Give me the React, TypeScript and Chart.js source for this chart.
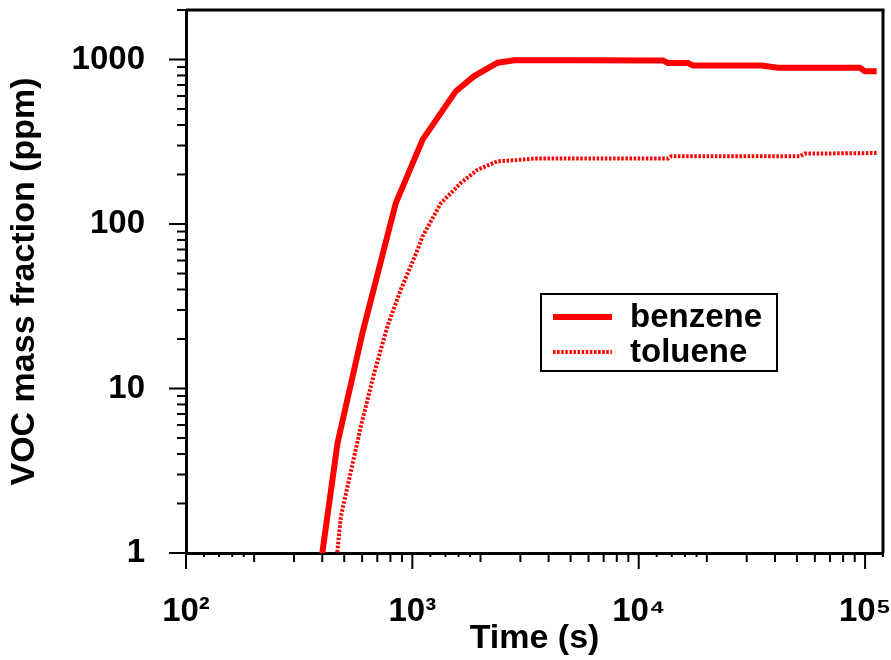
import React, { useEffect, useRef } from "react";
import { Chart, registerables } from "chart.js";

Chart.register(...registerables);

// ---- data ----
const benzeneTime = [398, 467, 603, 845, 1110, 1556, 1875, 2383, 2818, 5000, 12800, 13450, 16500, 17370, 34800, 41300, 94800, 99800, 112500];
const benzeneValue = [0.95, 4.65, 22, 134, 326, 642, 793, 957, 990, 990, 988, 951, 951, 920, 920, 891, 891, 850, 850];

const tolueneTime = [462, 483, 525, 592, 678, 776, 889, 1055, 1110, 1337, 1641, 1943, 2383, 2900, 3460, 13500, 13930, 51500, 54200, 112500];
const tolueneValue = [0.9, 1.66, 2.78, 5.87, 12.4, 23.9, 39.9, 69.8, 84.2, 134, 178, 214, 241, 245, 250, 250, 258, 258, 268, 270];

const seriesLabels = ["benzene", "toluene"];

const xMajorTicks = [100, 1000, 10000, 100000];
const xTickLabels = ["10²", "10³", "10⁴", "10⁵"];
const yMajorTicks = [1, 10, 100, 1000];
const yTickLabels = ["1", "10", "100", "1000"];
const minorFactors = [2, 3, 4, 5, 6, 7, 8, 9];
const tinyFactors = [1.2, 1.4, 1.6, 1.8];

const X_MIN = 100;
const X_MAX = 120000;
const Y_MIN = 1;
const Y_MAX = 2000;

const FONT = "'Liberation Sans', Arial, Helvetica, sans-serif";

const zeroPadding = (scale: any) => {
  scale.paddingTop = 0;
  scale.paddingBottom = 0;
  scale.paddingLeft = 0;
  scale.paddingRight = 0;
};

const tickMarksPlugin = {
  id: "tickMarks",
  afterDraw(chart: any) {
    const { ctx, chartArea } = chart;
    const xs = chart.scales.x;
    const ys = chart.scales.y;
    const { left, right, top, bottom } = chartArea;
    ctx.save();
    ctx.strokeStyle = "#000";
    ctx.lineWidth = 2;
    const line = (x1: number, y1: number, x2: number, y2: number) => {
      ctx.beginPath();
      ctx.moveTo(x1, y1);
      ctx.lineTo(x2, y2);
      ctx.stroke();
    };
    const drawX = (v: number, len: number) => {
      if (v < X_MIN || v > X_MAX) return;
      const px = xs.getPixelForValue(v);
      line(px, bottom, px, bottom + len);
    };
    const drawY = (v: number, len: number) => {
      if (v < Y_MIN || v > Y_MAX) return;
      const py = ys.getPixelForValue(v);
      line(left, py, left - len, py);
    };
    xMajorTicks.forEach((d) => {
      drawX(d, 16);
      minorFactors.forEach((f) => drawX(d * f, 9));
      tinyFactors.forEach((f) => drawX(d * f, 4));
    });
    yMajorTicks.forEach((d) => {
      drawY(d, 17);
      minorFactors.forEach((f) => drawY(d * f, 9));
    });
    // frame top / right
    ctx.lineWidth = 3;
    line(left, top, right + 1.5, top);
    line(right, top, right, bottom);
    ctx.restore();
  },
};

const boxLegendPlugin = {
  id: "boxLegend",
  afterDraw(chart: any) {
    const { ctx, chartArea } = chart;
    const bx = chartArea.left + 355;
    const by = chartArea.top + 284;
    const bw = 236;
    const bh = 77;
    ctx.save();
    ctx.fillStyle = "#fff";
    ctx.fillRect(bx, by, bw, bh);
    ctx.strokeStyle = "#000";
    ctx.lineWidth = 2;
    ctx.strokeRect(bx, by, bw, bh);
    ctx.font = `bold 33px ${FONT}`;
    ctx.textBaseline = "middle";
    ctx.textAlign = "left";
    chart.data.datasets.forEach((ds: any, i: number) => {
      const cy = by + 23 + i * 35;
      ctx.strokeStyle = ds.borderColor;
      ctx.lineWidth = ds.borderWidth;
      ctx.setLineDash(ds.borderDash || []);
      ctx.beginPath();
      ctx.moveTo(bx + 12, cy);
      ctx.lineTo(bx + 71, cy);
      ctx.stroke();
      ctx.setLineDash([]);
      ctx.fillStyle = "#000";
      ctx.fillText(ds.label, bx + 89, cy + 1);
    });
    ctx.restore();
  },
};

export default function App() {
  const canvasRef = useRef<HTMLCanvasElement | null>(null);

  useEffect(() => {
    if (!canvasRef.current) return;
    const benzenePts = benzeneTime.map((t, i) => ({ x: t, y: benzeneValue[i] }));
    const toluenePts = tolueneTime.map((t, i) => ({ x: t, y: tolueneValue[i] }));

    const chart = new Chart(canvasRef.current, {
      type: "line",
      data: {
        datasets: [
          {
            label: seriesLabels[0],
            data: benzenePts,
            borderColor: "#ff0000",
            borderWidth: 6,
            pointRadius: 0,
            tension: 0,
            fill: false,
          },
          {
            label: seriesLabels[1],
            data: toluenePts,
            borderColor: "#ff0000",
            borderWidth: 4,
            borderDash: [2.5, 1.6],
            pointRadius: 0,
            tension: 0,
            fill: false,
          },
        ],
      },
      options: {
        animation: false,
        responsive: false,
        devicePixelRatio: 1,
        layout: { padding: { top: 10, right: 8, left: 0, bottom: 0 } },
        plugins: {
          legend: { display: false },
          tooltip: { enabled: false },
        },
        scales: {
          x: {
            type: "logarithmic",
            position: "bottom",
            min: X_MIN,
            max: X_MAX,
            afterBuildTicks: (scale: any) => {
              scale.ticks = xMajorTicks.map((v) => ({ value: v }));
            },
            afterFit: (scale: any) => {
              scale.height = 107;
              zeroPadding(scale);
            },
            grid: { display: false, drawTicks: true, tickLength: 15 },
            border: { display: true, color: "#000", width: 3 },
            ticks: {
              color: "#000",
              padding: 24,
              maxRotation: 0,
              autoSkip: false,
              font: { family: FONT, size: 33, weight: "bold" },
              callback: (value: any) => {
                const idx = xMajorTicks.indexOf(Number(value));
                return idx >= 0 ? xTickLabels[idx] : "";
              },
            },
            title: {
              display: true,
              text: "Time (s)",
              color: "#000",
              font: { family: FONT, size: 34, weight: "bold" },
              padding: { top: 0, bottom: 1 },
            },
          },
          y: {
            type: "logarithmic",
            position: "left",
            min: Y_MIN,
            max: Y_MAX,
            afterBuildTicks: (scale: any) => {
              scale.ticks = yMajorTicks.map((v) => ({ value: v }));
            },
            afterFit: (scale: any) => {
              scale.width = 186;
              zeroPadding(scale);
            },
            grid: { display: false, drawTicks: true, tickLength: 16 },
            border: { display: true, color: "#000", width: 3 },
            ticks: {
              color: "#000",
              padding: 25,
              autoSkip: false,
              font: { family: FONT, size: 33, weight: "bold" },
              callback: (value: any) => {
                const idx = yMajorTicks.indexOf(Number(value));
                return idx >= 0 ? yTickLabels[idx] : "";
              },
            },
            title: {
              display: true,
              text: "VOC mass fraction (ppm)",
              color: "#000",
              font: { family: FONT, size: 34, weight: "bold" },
              padding: { top: 4, bottom: 0 },
            },
          },
        },
      },
      plugins: [tickMarksPlugin, boxLegendPlugin],
    } as any);

    return () => chart.destroy();
  }, []);

  return (
    <div style={{ position: "fixed", left: 0, top: 0, width: 891, height: 660, background: "#fff" }}>
      <canvas ref={canvasRef} width={891} height={660} style={{ display: "block", width: 891, height: 660 }} />
    </div>
  );
}
